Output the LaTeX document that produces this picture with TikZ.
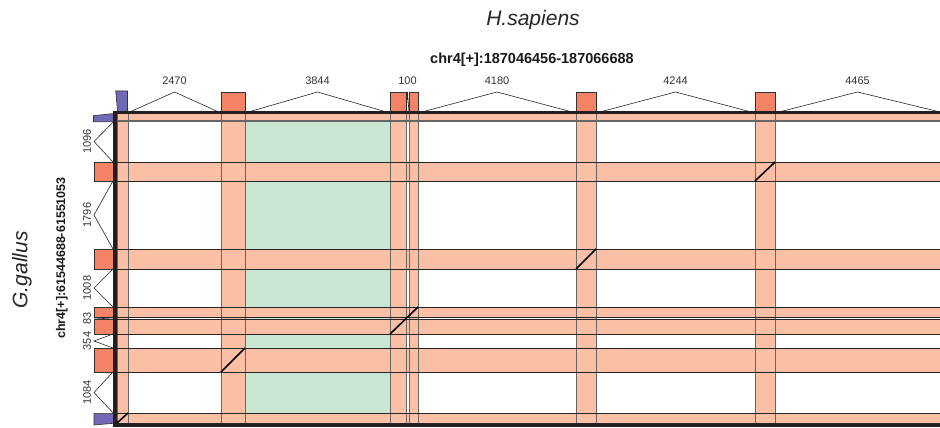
\documentclass[tikz,border=0pt]{standalone}
\usepackage{fontspec}
\setmainfont{Liberation Sans}
\definecolor{exonred}{HTML}{F58466}
\definecolor{band}{HTML}{FBBFA6}
\definecolor{greenband}{HTML}{C9E6D3}
\definecolor{exonblue}{HTML}{7169B5}
\definecolor{framec}{HTML}{231F20}
\begin{document}
\begin{tikzpicture}[x=1pt,y=-1pt,
  exon/.style={draw=black!80, fill=exonred, line width=0.6pt, inner sep=0pt, outer sep=0pt},
  bluex/.style={draw=black!80, fill=exonblue, line width=0.6pt},
  coledge/.style={draw=black!60, line width=0.7pt},
  rowedge/.style={draw=black!85, line width=0.7pt},
  intron/.style={draw=black!85, line width=0.6pt},
  hit/.style={draw=black, line width=1.6pt},
  frameline/.style={draw=framec, line width=3.5pt},
  lab/.style={font=\fontsize{11}{11}\selectfont, text=black!80, inner sep=0pt},
  vlab/.style={lab, rotate=90},
]
\useasboundingbox (0,0) rectangle (940,428);

% green region
\fill[greenband] (245,114) rectangle (390,413);
% bands
\foreach \a/\b in {114/121,162/181,249/269,307/317,319/334,348/372,413/423}
  \fill[band] (117,\a) rectangle (940,\b);
\foreach \a/\b in {117/128,221/245,390/406,409/418,576/596,755/775}
  \fill[band] (\a,114) rectangle (\b,423);
% band edges
\foreach \a/\b in {117/128,221/245,390/406,409/418,576/596,755/775}{
  \draw[coledge] (\a,114) -- (\a,423);
  \draw[coledge] (\b,114) -- (\b,423);}
\foreach \a/\b in {162/181,249/269,307/317,319/334,348/372,413/423}{
  \draw[rowedge] (117,\a) -- (940,\a);
  \draw[rowedge] (117,\b) -- (940,\b);}
\draw[draw=black!60, line width=1.4pt] (117,121) -- (940,121);

% alignment hits
\draw[hit] (117,423) -- (128,413);
\draw[hit] (221,372) -- (245,348);
\draw[hit] (390,334) -- (418,307);
\draw[hit] (576,269) -- (596,249);
\draw[hit] (755,181) -- (775,162);

% top exons (H.sapiens)
\draw[bluex] (115.7,91) -- (127.5,91) -- (127.5,113) -- (117.7,113) -- cycle;
\coordinate (h1) at (127.5,113);
\node[exon, anchor=south west, minimum width=24pt, minimum height=21pt] (h2) at (221,113) {};
\node[exon, anchor=south west, minimum width=16pt, minimum height=21pt] (h3) at (390,113) {};
\node[exon, anchor=south west, minimum width=9pt, minimum height=21pt] (h4) at (409,113) {};
\node[exon, anchor=south west, minimum width=20pt, minimum height=21pt] (h5) at (576,113) {};
\node[exon, anchor=south west, minimum width=20pt, minimum height=21pt] (h6) at (755,113) {};
\coordinate (hend) at (940,112);

% top introns
\coordinate (t1) at (174.5,92);
\coordinate (t2) at (317.5,92);
\coordinate (t3) at (407.5,92);
\coordinate (t4) at (497,92);
\coordinate (t5) at (675.5,92);
\coordinate (t6) at (857.5,92);
\draw[intron] (h1) -- (t1) -- (h2.south west);
\draw[intron] (h2.south east) -- (t2) -- (h3.south west);
\draw[intron] (h3.south east) -- (t3) -- (h4.south west);
\draw[intron] (h4.south east) -- (t4) -- (h5.south west);
\draw[intron] (h5.south east) -- (t5) -- (h6.south west);
\draw[intron] (h6.south east) -- (t6) -- (hend);
\node[lab] (lt1) at (174.5,81) {2470};
\node[lab] (lt2) at (317.5,81) {3844};
\node[lab] (lt3) at (407.5,81) {100};
\node[lab] (lt4) at (497,81) {4180};
\node[lab] (lt5) at (675.5,81) {4244};
\node[lab] (lt6) at (857.5,81) {4465};

% left exons (G.gallus)
\draw[bluex] (93.5,115.7) -- (113.5,113.5) -- (113.5,121.7) -- (93.5,121.7) -- cycle;
\coordinate (g1) at (113.5,121.7);
\node[exon, anchor=north east, minimum width=19pt, minimum height=19pt] (g2) at (113,162) {};
\node[exon, anchor=north east, minimum width=19pt, minimum height=20pt] (g3) at (113,249) {};
\node[exon, anchor=north east, minimum width=19pt, minimum height=10pt] (g4) at (113,307) {};
\node[exon, anchor=north east, minimum width=19pt, minimum height=15pt] (g5) at (113,319) {};
\node[exon, anchor=north east, minimum width=19pt, minimum height=24pt] (g6) at (113,348) {};
\draw[bluex] (94,413.3) -- (113.5,413.3) -- (113.5,423.3) -- (94,425) -- cycle;
\coordinate (g7) at (113.5,413.3);

% left introns
\coordinate (s1) at (94,141.5);
\coordinate (s2) at (94,215);
\coordinate (s3) at (94,288);
\coordinate (s4) at (94,318);
\coordinate (s5) at (94,341);
\coordinate (s6) at (94,392.5);
\draw[intron] (g1) -- (s1) -- (g2.north east);
\draw[intron] (g2.south east) -- (s2) -- (g3.north east);
\draw[intron] (g3.south east) -- (s3) -- (g4.north east);
\draw[intron] (g4.south east) -- (s4) -- (g5.north east);
\draw[intron] (g5.south east) -- (s5) -- (g6.north east);
\draw[intron] (g6.south east) -- (s6) -- (g7);
\node[vlab] (ls1) at (87,141.5) {1096};
\node[vlab] (ls2) at (87,215) {1796};
\node[vlab] (ls3) at (87,288) {1008};
\node[vlab] (ls4) at (87,318) {83};
\node[vlab] (ls5) at (87,341) {354};
\node[vlab] (ls6) at (87,392.5) {1084};

% frame
\draw[frameline] (113.3,112.5) -- (940,112.5);
\draw[frameline] (115,110.8) -- (115,427.3);
\draw[frameline] (113.3,425.6) -- (940,425.6);

% titles
\node[font=\fontsize{21}{21}\selectfont\itshape, text=black!85] (sp) at (533,20) {H.sapiens};
\node[font=\fontsize{14.5}{14.5}\selectfont\bfseries, text=black!90] (hc) at (532,60) {chr4[+]:187046456-187066688};
\node[rotate=90, font=\fontsize{12.5}{12.5}\selectfont\bfseries, text=black!90] (gc) at (62,258) {chr4[+]:61544688-61551053};
\node[rotate=90, font=\fontsize{21}{21}\selectfont\itshape, text=black!85] (gg) at (22,270) {G.gallus};
\end{tikzpicture}
\end{document}
